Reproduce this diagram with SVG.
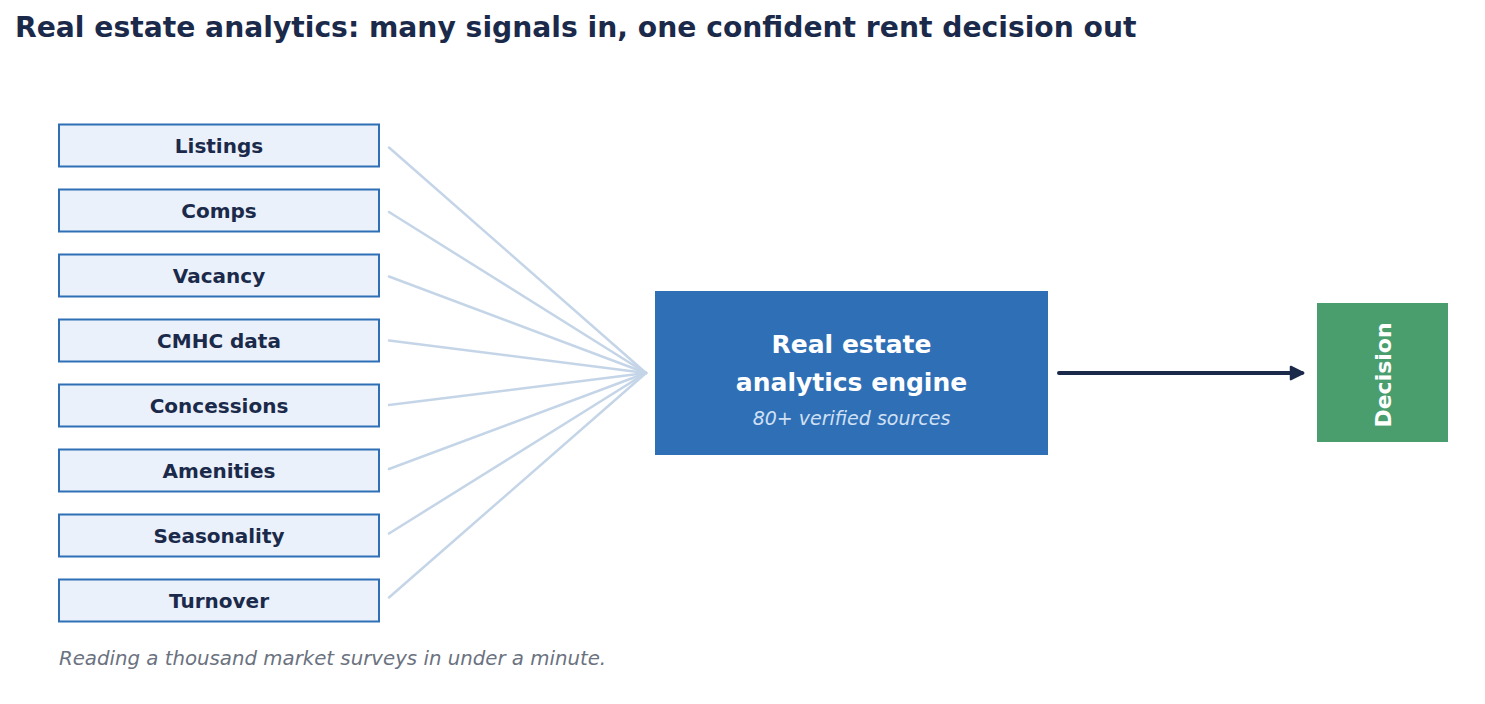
<svg xmlns="http://www.w3.org/2000/svg" width="1485" height="704" viewBox="0 0 1485 704">
<defs>
<style>
.title{font-family:"DejaVu Sans",sans-serif;font-weight:bold;font-size:28.2px;fill:#1b2a4a}
.src rect{fill:#eaf1fb;stroke:#2f6fb5;stroke-width:2}
.src text{font-family:"DejaVu Sans",sans-serif;font-weight:bold;font-size:20px;fill:#1b2a4a;text-anchor:middle}
.fan line{stroke:#c5d5e8;stroke-width:2.5;stroke-linecap:round}
.eng{font-family:"DejaVu Sans",sans-serif;font-weight:bold;font-size:25px;fill:#ffffff;text-anchor:middle}
.sub{font-family:"DejaVu Sans",sans-serif;font-style:italic;font-size:19px;fill:#cfe0f5;text-anchor:middle}
.dec{font-family:"DejaVu Sans",sans-serif;font-weight:bold;font-size:22px;fill:#ffffff;text-anchor:middle}
.foot{font-family:"DejaVu Sans",sans-serif;font-style:italic;font-size:19.75px;fill:#6b7280}
</style>
<marker id="ah" viewBox="0 0 12 12" refX="9.5" refY="6" markerWidth="4.2" markerHeight="4.2" orient="auto" markerUnits="strokeWidth">
<path d="M1.5,1.5 L10.5,6 L1.5,10.5 z" fill="#1b2a4a" stroke="#1b2a4a" stroke-width="1.5" stroke-linejoin="round"/>
</marker>
</defs>
<rect width="1485" height="704" fill="#ffffff"/>
<text class="title" x="15" y="37">Real estate analytics: many signals in, one confident rent decision out</text>

<g id="connectors">
<g class="fan">
<line x1="389" y1="147.5" x2="646" y2="373"/>
<line x1="389" y1="212" x2="646" y2="373"/>
<line x1="389" y1="276.5" x2="646" y2="373"/>
<line x1="389" y1="340.5" x2="646" y2="373"/>
<line x1="389" y1="405" x2="646" y2="373"/>
<line x1="389" y1="469" x2="646" y2="373"/>
<line x1="389" y1="533.5" x2="646" y2="373"/>
<line x1="389" y1="597.5" x2="646" y2="373"/>
</g>
<line x1="1059" y1="373" x2="1302" y2="373" stroke="#1b2a4a" stroke-width="4" stroke-linecap="round" marker-end="url(#ah)"/>
</g>

<g id="n-listings" class="src"><rect x="59" y="124.5" width="320" height="42"/><text x="219" y="152.5">Listings</text></g>
<g id="n-comps" class="src"><rect x="59" y="189.5" width="320" height="42"/><text x="219" y="217.5">Comps</text></g>
<g id="n-vacancy" class="src"><rect x="59" y="254.5" width="320" height="42"/><text x="219" y="282.5">Vacancy</text></g>
<g id="n-cmhc" class="src"><rect x="59" y="319.5" width="320" height="42"/><text x="219" y="347.5">CMHC data</text></g>
<g id="n-concessions" class="src"><rect x="59" y="384.5" width="320" height="42"/><text x="219" y="412.5">Concessions</text></g>
<g id="n-amenities" class="src"><rect x="59" y="449.5" width="320" height="42"/><text x="219" y="477.5">Amenities</text></g>
<g id="n-seasonality" class="src"><rect x="59" y="514.5" width="320" height="42"/><text x="219" y="542.5">Seasonality</text></g>
<g id="n-turnover" class="src"><rect x="59" y="579.5" width="320" height="42"/><text x="219" y="607.5">Turnover</text></g>

<g id="n-engine">
<rect x="655" y="291" width="393" height="164" fill="#2f6fb5"/>
<text class="eng" x="851.5" y="352.5">Real estate</text>
<text class="eng" x="851.5" y="390.5">analytics engine</text>
<text class="sub" x="851.5" y="424.5">80+ verified sources</text>
</g>

<g id="n-decision">
<rect x="1317" y="303" width="131" height="139" fill="#4a9e6e"/>
<text class="dec" transform="translate(1391,375) rotate(-90)" x="0" y="0">Decision</text>
</g>

<text class="foot" x="59" y="665">Reading a thousand market surveys in under a minute.</text>
</svg>
